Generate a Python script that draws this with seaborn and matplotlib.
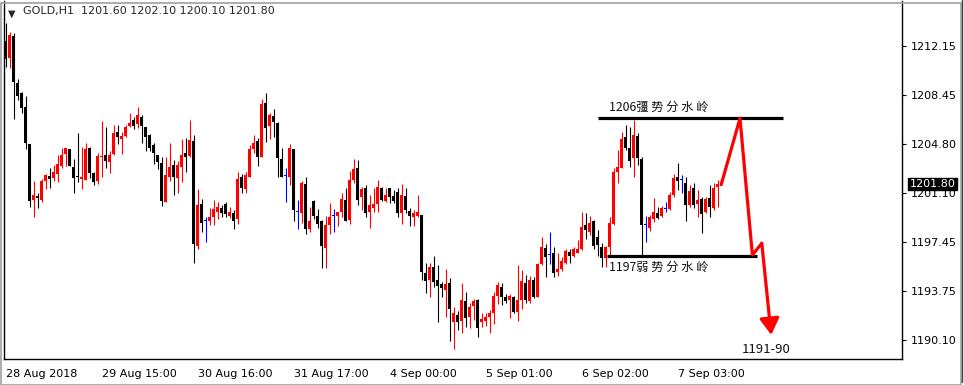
import numpy as np
import pandas as pd
import seaborn as sns
import matplotlib.pyplot as plt
from matplotlib.patches import Rectangle
import matplotlib.transforms as mtransforms

# --- data (GOLD H1) ---
opens = [1212.55, 1211.28, 1212.90, 1209.35, 1208.65, 1207.55, 1204.80, 1200.60, 1200.90, 1200.60,
         1202.03, 1202.43, 1202.28, 1202.55, 1203.18, 1204.05, 1204.43, 1203.08, 1202.43, 1202.15,
         1202.10, 1204.53, 1202.65, 1202.03, 1203.80, 1203.98, 1203.48, 1204.05, 1205.68, 1205.15,
         1205.40, 1206.15, 1206.60, 1206.28, 1206.80, 1206.05, 1205.45, 1204.73, 1203.98, 1203.35,
         1200.48, 1202.35, 1203.20, 1202.28, 1203.08, 1204.15, 1203.90, 1205.03, 1197.15, 1200.30,
         1199.03, 1199.05, 1199.35, 1199.73, 1199.98, 1200.30, 1199.43, 1199.60, 1199.15, 1202.30,
         1201.40, 1202.35, 1204.43, 1205.03, 1203.85, 1207.88, 1206.18, 1206.88, 1206.38, 1203.68,
         1202.43, 1202.35, 1204.43, 1199.73, 1199.65, 1201.78, 1198.43, 1200.53, 1199.40, 1199.03,
         1197.03, 1198.73, 1199.40, 1199.40, 1199.73, 1200.60, 1199.10, 1202.10, 1203.03, 1200.80,
         1201.53, 1199.68, 1200.03, 1200.30, 1201.53, 1200.55, 1201.48, 1200.90, 1201.23, 1199.65,
         1200.90, 1199.78, 1199.35, 1199.40, 1199.48, 1195.15, 1194.60, 1195.60, 1194.60, 1194.30,
         1193.85, 1194.40, 1191.48, 1191.98, 1191.53, 1193.03, 1191.85, 1192.68, 1193.10, 1191.43,
         1191.55, 1191.85, 1192.15, 1193.43, 1194.10, 1193.35, 1193.10, 1193.35, 1192.23, 1193.10,
         1194.40, 1193.03, 1194.60, 1193.35, 1195.78, 1197.03, 1196.45, 1196.60, 1195.23, 1195.43,
         1195.85, 1196.70, 1196.40, 1196.65, 1196.93, 1198.73, 1198.23, 1199.03, 1197.85, 1197.10,
         1196.23, 1197.10, 1198.78, 1202.73, 1203.03, 1205.35, 1204.53, 1203.73, 1205.40, 1203.68,
         1198.73, 1198.53, 1199.18, 1199.60, 1199.43, 1199.95, 1199.95, 1200.95, 1202.35, 1202.10,
         1201.90, 1200.23, 1201.48, 1200.28, 1200.68, 1199.73, 1200.78, 1199.98, 1201.60]
highs = [1213.90, 1213.23, 1213.10, 1209.65, 1208.73, 1208.40, 1204.80, 1202.03, 1201.15, 1202.18,
         1202.53, 1202.98, 1203.23, 1203.98, 1204.53, 1204.53, 1204.43, 1203.70, 1205.65, 1204.60,
         1204.85, 1204.60, 1202.73, 1204.10, 1206.55, 1206.10, 1204.28, 1206.23, 1206.23, 1205.70,
         1206.20, 1207.10, 1206.85, 1207.58, 1206.95, 1206.05, 1205.53, 1204.85, 1203.98, 1203.85,
         1203.85, 1204.90, 1203.60, 1203.55, 1205.18, 1205.23, 1206.60, 1205.48, 1201.43, 1200.65,
         1199.35, 1200.03, 1200.60, 1200.48, 1200.23, 1200.48, 1200.08, 1199.85, 1202.73, 1202.55,
         1202.73, 1204.73, 1205.48, 1205.23, 1208.18, 1208.60, 1207.15, 1207.43, 1206.48, 1204.48,
         1202.98, 1204.80, 1204.43, 1200.60, 1202.03, 1202.30, 1200.10, 1200.60, 1199.90, 1199.10,
         1199.40, 1200.35, 1199.90, 1199.70, 1201.10, 1201.48, 1202.80, 1203.68, 1203.60, 1201.60,
         1201.73, 1200.98, 1201.48, 1202.10, 1201.60, 1201.48, 1201.53, 1201.35, 1201.48, 1201.80,
         1201.48, 1199.98, 1199.85, 1200.98, 1199.48, 1195.85, 1195.85, 1196.40, 1195.73, 1194.48,
         1195.43, 1194.73, 1192.60, 1192.28, 1194.40, 1193.73, 1192.90, 1193.15, 1193.18, 1192.15,
         1192.10, 1192.35, 1193.73, 1194.43, 1194.40, 1193.55, 1193.55, 1193.40, 1195.73, 1195.35,
         1194.98, 1194.90, 1194.80, 1195.85, 1197.85, 1197.28, 1198.23, 1197.05, 1196.60, 1196.35,
         1196.90, 1196.93, 1197.10, 1197.60, 1199.73, 1199.65, 1199.43, 1199.10, 1198.35, 1197.35,
         1197.15, 1199.35, 1203.03, 1204.35, 1205.68, 1206.20, 1206.10, 1206.60, 1205.65, 1203.80,
         1199.43, 1199.48, 1200.73, 1200.10, 1200.18, 1200.45, 1201.23, 1202.55, 1203.35, 1202.48,
         1202.35, 1201.73, 1201.85, 1201.35, 1200.85, 1200.85, 1201.73, 1201.85, 1202.10]
lows = [1210.55, 1210.48, 1206.65, 1208.10, 1207.10, 1204.40, 1200.05, 1199.35, 1199.98, 1200.48,
        1201.40, 1201.48, 1202.05, 1201.98, 1203.03, 1203.18, 1203.18, 1201.15, 1201.98, 1201.45,
        1202.10, 1202.23, 1201.73, 1201.80, 1202.35, 1203.03, 1202.65, 1203.95, 1204.80, 1204.08,
        1205.35, 1206.05, 1205.93, 1205.98, 1204.85, 1204.28, 1204.28, 1203.28, 1202.93, 1200.18,
        1200.48, 1202.00, 1200.98, 1201.15, 1201.98, 1202.73, 1203.80, 1195.90, 1196.90, 1198.18,
        1197.48, 1198.73, 1198.73, 1199.15, 1199.35, 1199.35, 1199.28, 1198.40, 1198.80, 1201.15,
        1201.15, 1202.35, 1204.10, 1203.18, 1203.80, 1204.98, 1205.15, 1205.35, 1202.35, 1202.35,
        1200.48, 1201.73, 1199.05, 1198.43, 1198.85, 1198.03, 1198.23, 1199.15, 1198.48, 1195.48,
        1195.48, 1198.05, 1198.23, 1198.68, 1199.35, 1199.05, 1198.78, 1201.85, 1200.23, 1199.85,
        1199.30, 1198.48, 1199.68, 1199.73, 1200.55, 1200.48, 1200.40, 1200.40, 1199.35, 1198.80,
        1199.65, 1198.68, 1198.68, 1199.35, 1194.60, 1193.65, 1193.35, 1194.10, 1191.48, 1193.35,
        1191.85, 1190.05, 1189.40, 1190.85, 1190.65, 1191.05, 1191.03, 1191.60, 1190.35, 1191.05,
        1191.18, 1190.60, 1191.30, 1192.78, 1192.73, 1192.90, 1191.78, 1192.10, 1191.55, 1192.40,
        1192.90, 1192.85, 1193.28, 1193.35, 1195.73, 1194.85, 1195.80, 1194.85, 1194.90, 1195.30,
        1195.78, 1195.85, 1196.35, 1196.60, 1196.85, 1197.65, 1197.98, 1196.90, 1196.40, 1195.60,
        1195.55, 1196.35, 1198.73, 1201.85, 1202.98, 1204.35, 1203.10, 1202.35, 1203.23, 1196.48,
        1197.48, 1198.28, 1198.93, 1199.18, 1199.35, 1199.70, 1199.85, 1200.85, 1201.35, 1201.10,
        1199.03, 1200.10, 1199.98, 1199.35, 1198.10, 1199.60, 1199.35, 1199.85, 1200.10]
closes = [1211.15, 1212.98, 1209.48, 1208.40, 1207.48, 1204.85, 1200.55, 1200.98, 1200.78, 1202.03,
          1202.48, 1202.15, 1202.70, 1203.30, 1203.98, 1204.53, 1203.18, 1202.28, 1202.30, 1202.33,
          1204.43, 1202.65, 1201.98, 1203.90, 1203.93, 1203.55, 1203.98, 1205.60, 1205.30, 1205.40,
          1206.05, 1206.35, 1206.15, 1206.95, 1206.15, 1205.35, 1204.53, 1204.10, 1203.48, 1200.55,
          1202.48, 1203.08, 1202.35, 1203.23, 1203.98, 1203.85, 1205.10, 1197.28, 1200.23, 1198.85,
          1199.03, 1199.35, 1199.93, 1200.08, 1199.60, 1199.55, 1199.68, 1199.05, 1202.18, 1201.48,
          1202.48, 1204.43, 1204.88, 1203.80, 1207.80, 1206.03, 1206.98, 1206.48, 1203.78, 1202.35,
          1202.43, 1204.50, 1199.85, 1199.73, 1201.85, 1198.40, 1199.05, 1199.43, 1198.80, 1197.18,
          1198.73, 1199.35, 1199.40, 1199.70, 1200.68, 1199.05, 1202.10, 1202.93, 1200.60, 1201.43,
          1199.65, 1200.23, 1200.30, 1201.60, 1200.60, 1200.98, 1200.80, 1200.55, 1199.60, 1200.98,
          1199.85, 1199.40, 1199.65, 1199.70, 1195.23, 1194.53, 1195.55, 1194.48, 1194.15, 1193.98,
          1194.30, 1192.43, 1192.15, 1191.48, 1193.10, 1191.78, 1192.60, 1193.03, 1191.03, 1191.65,
          1191.85, 1192.15, 1193.43, 1194.23, 1193.35, 1193.05, 1193.43, 1192.23, 1193.10, 1194.55,
          1193.10, 1194.60, 1193.35, 1195.78, 1197.05, 1196.35, 1196.45, 1195.15, 1195.43, 1196.03,
          1196.78, 1196.40, 1196.90, 1196.95, 1198.55, 1198.35, 1198.90, 1197.15, 1197.23, 1196.28,
          1197.10, 1198.85, 1202.73, 1203.10, 1205.18, 1204.53, 1203.53, 1205.48, 1203.73, 1198.73,
          1198.73, 1199.35, 1199.73, 1199.28, 1199.98, 1199.95, 1200.95, 1202.25, 1202.03, 1202.10,
          1200.23, 1201.28, 1200.23, 1200.60, 1199.53, 1200.68, 1200.10, 1201.48, 1201.80]

price_ticks = [1212.15, 1208.45, 1204.80, 1201.10, 1197.45, 1193.75, 1190.10]
time_labels = ["28 Aug 2018", "29 Aug 15:00", "30 Aug 16:00", "31 Aug 17:00",
               "4 Sep 00:00", "5 Sep 01:00", "6 Sep 02:00", "7 Sep 03:00"]
bars_per_label = 24

strong_level = 1206.73
weak_level = 1196.40
target_text = "1191-90"
# analyst's forecast path (bar index, price)
path_bar = [178.9, 183.6, 186.7, 189.05]
path_price = [1201.75, 1206.73, 1196.48, 1197.35]
arrow_tip = (191.4, 1190.48)

df = pd.DataFrame({"open": opens, "high": highs, "low": lows, "close": closes})
df["bar"] = np.arange(len(df))
df["color"] = np.where(df["close"] > df["open"], "#ff0000",
                       np.where(df["close"] < df["open"], "#000000", "#0000ff"))

sns.set_style("white")
plt.rcParams["font.family"] = ["DejaVu Sans", "Noto Sans CJK SC"]

W, H = 964, 385
fig = plt.figure(figsize=(W / 100, H / 100), dpi=100)
ax = fig.add_axes([4 / W, 1 - 359 / H, 898 / W, 358 / H])

# wicks
ax.vlines(df["bar"], df["low"], df["high"], colors=df["color"], lw=0.8, zorder=2)
# bodies
body_lo = df[["open", "close"]].min(axis=1)
body_h = (df["close"] - df["open"]).abs().clip(lower=0.08)
ax.bar(df["bar"], body_h, bottom=body_lo, width=0.72, color=df["color"], lw=0, zorder=3)

# support / resistance levels
ax.hlines(strong_level, 148.1, 194.4, color="black", lw=2.3, zorder=4)
ax.hlines(weak_level, 150.3, 187.8, color="black", lw=2.3, zorder=4)
cjk = ["Noto Sans CJK SC", "Noto Sans CJK TC", "DejaVu Sans"]
ax.text(150.8, strong_level + 0.3, "1206彊 势 分 水 岭", family=cjk, fontsize=8.8,
        ha="left", va="bottom", color="#111111")
ax.text(150.8, weak_level - 0.35, "1197弱 势 分 水 岭", family=cjk, fontsize=8.8,
        ha="left", va="top", color="#111111")

# forecast path
sns.lineplot(x=path_bar, y=path_price, color="#ff0000", lw=2.3, ax=ax, sort=False,
             estimator=None, zorder=5)
ax.annotate("", xy=arrow_tip, xytext=(path_bar[-1], path_price[-1]),
            arrowprops=dict(arrowstyle="-|>,head_length=0.45,head_width=0.27",
                            color="#ff0000", lw=2.3, mutation_scale=22,
                            shrinkA=0, shrinkB=0), zorder=5)
ax.text(arrow_tip[0] - 1.3, 1189.35, target_text, family=cjk, fontsize=9.5,
        ha="center", va="center", color="#111111")

# axes limits / ticks
ax.set_xlim(-0.375, 224.1)
ax.set_ylim(1188.67, 1215.53)
ax.yaxis.tick_right()
ax.set_yticks(price_ticks)
ax.set_yticklabels([f"{p:.2f}" for p in price_ticks])
ax.set_xticks(np.arange(len(time_labels)) * bars_per_label)
ax.set_xticklabels(time_labels, ha="left")
ax.tick_params(axis="both", which="both", direction="out", length=3, width=0.8,
               colors="black", labelsize=8, pad=3)
ax.tick_params(axis="x", pad=4)
ax.set_xlabel("")
ax.set_ylabel("")
for side in ["left", "bottom", "right"]:
    ax.spines[side].set_visible(True)
    ax.spines[side].set_color("black")
    ax.spines[side].set_linewidth(1.0)
ax.spines["top"].set_visible(False)

# current price marker on the axis
trans = mtransforms.blended_transform_factory(ax.transAxes, ax.transData)
ax.text(1.0085, closes[-1], f"{closes[-1]:.2f}", transform=trans, fontsize=8,
        color="white", ha="left", va="center", clip_on=False, zorder=10,
        bbox=dict(boxstyle="square,pad=0.12", fc="black", ec="black"))

# header
ax.text(0.0045, 0.978, "▼", transform=ax.transAxes, fontsize=7, ha="left", va="top")
ax.text(0.021, 0.985, "GOLD,H1  1201.60 1202.10 1200.10 1201.80",
        transform=ax.transAxes, fontsize=8, ha="left", va="top")

# window frame
fig.patches.append(Rectangle((0.5 / W, 0.5 / H), 1 - 3.5 / W, 1 - 3 / H,
                             transform=fig.transFigure, fill=False,
                             ec="#a0a0a0", lw=1.2))
fig.add_artist(plt.Line2D([1 - 2.5 / W, 1 - 2.5 / W], [3 / H, 1], color="#404040", lw=1))

fig.savefig("out.png", dpi=100, facecolor="white")
